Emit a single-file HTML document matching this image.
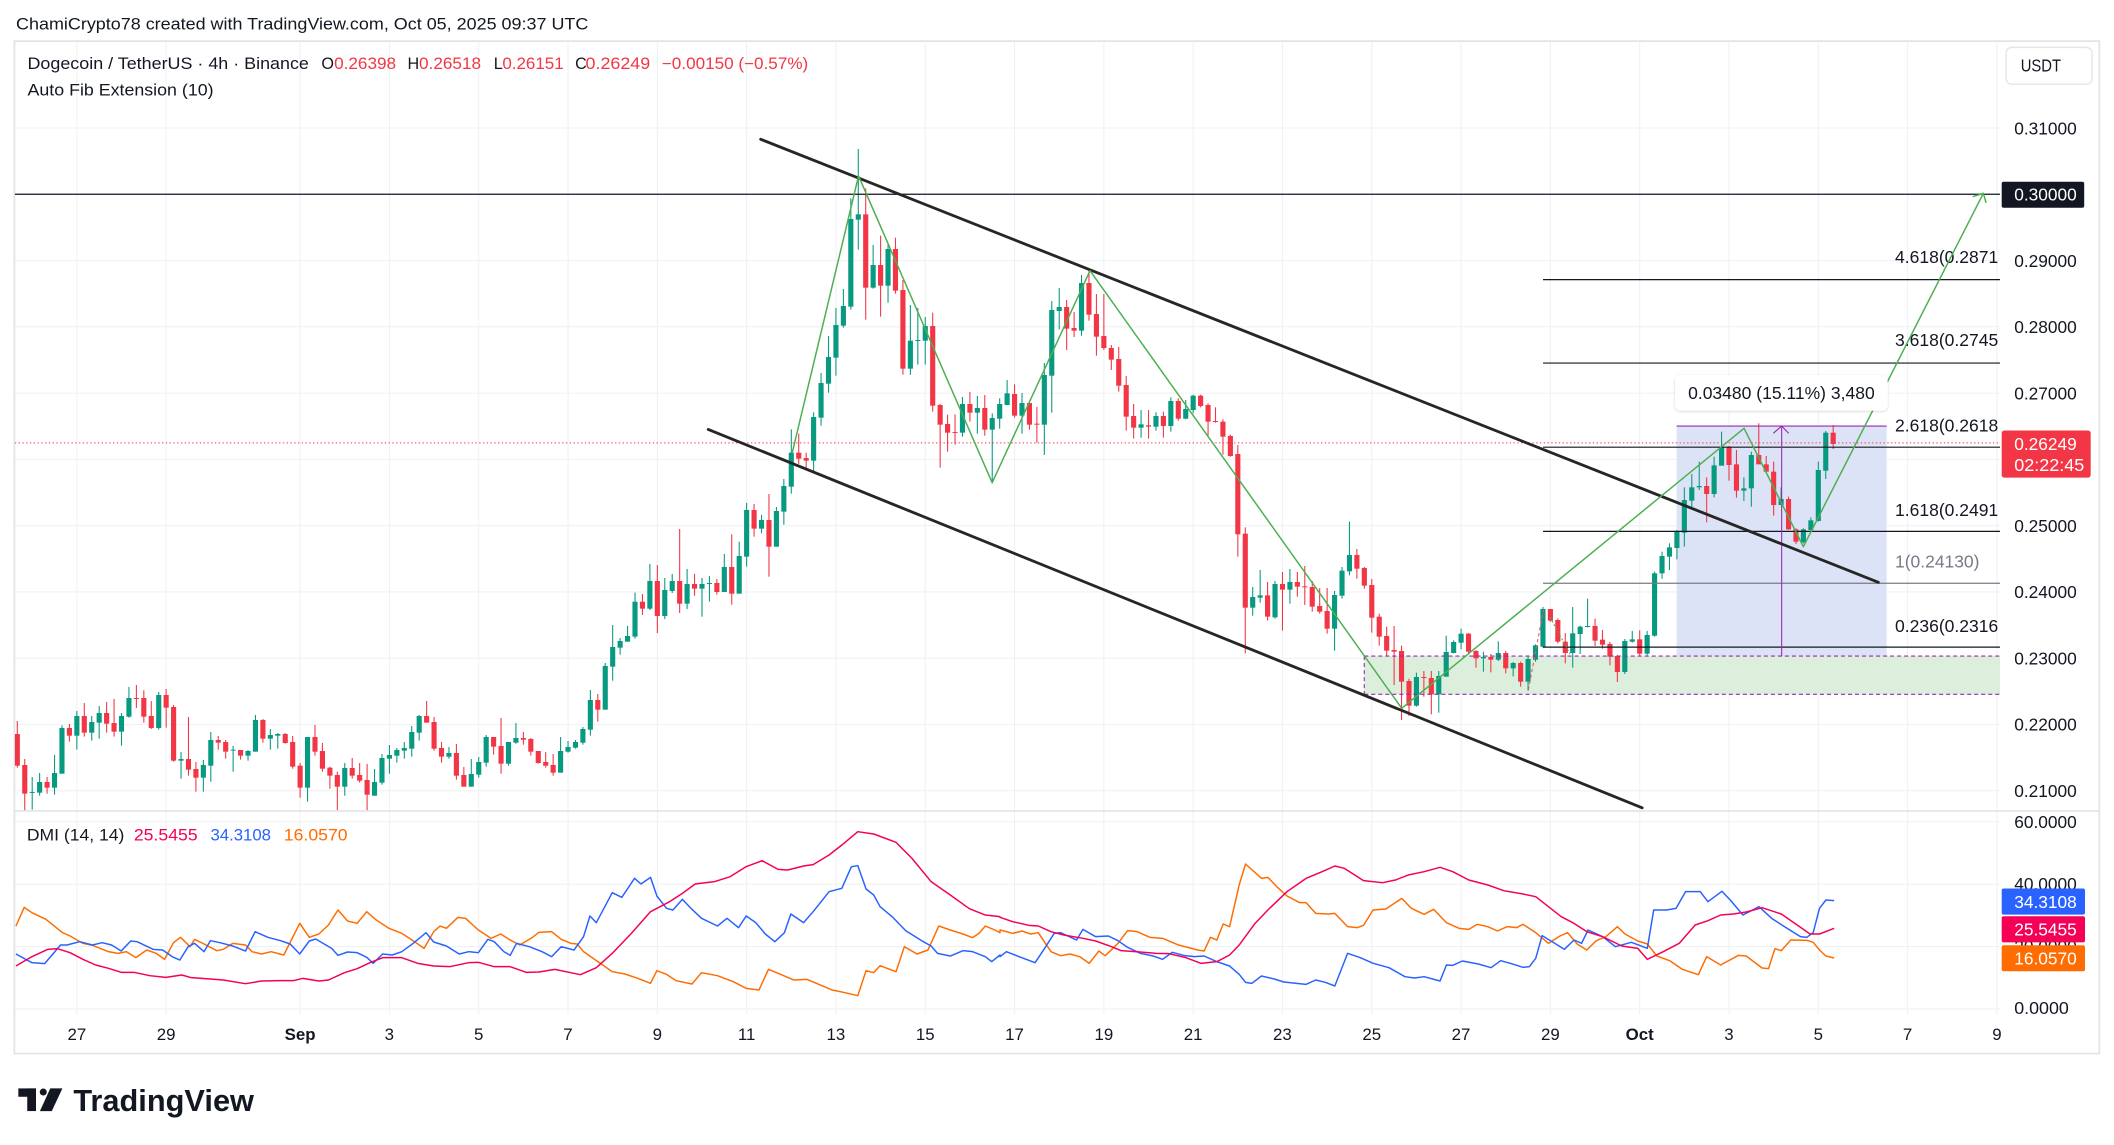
<!DOCTYPE html>
<html><head><meta charset="utf-8"><style>
html,body{margin:0;padding:0;background:#fff;}
svg{display:block;}
text{font-family:"Liberation Sans",Arial,sans-serif;}
</style></head><body>
<svg id="c" xmlns="http://www.w3.org/2000/svg" width="2114" height="1145" viewBox="0 0 1568 849.27" preserveAspectRatio="none">
<defs>
<clipPath id="pp"><rect x="11" y="30.5" width="1472.5" height="571"/></clipPath>
<clipPath id="dp"><rect x="11" y="601.5" width="1472.5" height="150.5"/></clipPath>
<filter id="sh" x="-10%" y="-30%" width="120%" height="170%"><feDropShadow dx="0" dy="0.6" stdDeviation="1" flood-color="#000" flood-opacity="0.18"/></filter>
</defs>
<rect x="0" y="0" width="1568" height="849.27" fill="#fff"/>
<text x="11.9" y="21.8" font-size="12.5" fill="#131722" textLength="424.5" lengthAdjust="spacingAndGlyphs">ChamiCrypto78 created with TradingView.com, Oct 05, 2025 09:37 UTC</text>
<rect x="10.7" y="30.5" width="1546.4" height="751" fill="#fff" stroke="#e3e4e8" stroke-width="1.3"/>
<g id="grid"></g>
<g id="under" clip-path="url(#pp)">
 <rect x="1011.9" y="486.6" width="471.6" height="28.4" fill="#dcefdd"/>
 <rect x="1243.6" y="316" width="155.8" height="170.6" fill="#dde3f6"/>
</g>
<g id="candles" clip-path="url(#pp)"></g>
<g id="draw" clip-path="url(#pp)">
 <line x1="11" y1="144.1" x2="1483.5" y2="144.1" stroke="#131722" stroke-width="0.9"/>
 <line x1="11" y1="328.5" x2="1483.5" y2="328.5" stroke="#f23645" stroke-width="0.8" stroke-dasharray="1 1.8"/>
 <g stroke="#131722" stroke-width="0.9">
  <line x1="1144.5" y1="207.4" x2="1483.5" y2="207.4"/>
  <line x1="1144.5" y1="269.3" x2="1483.5" y2="269.3"/>
  <line x1="1144.5" y1="331.7" x2="1483.5" y2="331.7"/>
  <line x1="1144.5" y1="394.1" x2="1483.5" y2="394.1"/>
  <line x1="1144.5" y1="480.0" x2="1483.5" y2="480.0"/>
 </g>
 <line x1="1144.5" y1="432.6" x2="1483.5" y2="432.6" stroke="#787b86" stroke-width="0.9"/>
 <g font-size="12.9" fill="#131722">
  <text x="1405.6" y="195.2" textLength="76.5" lengthAdjust="spacingAndGlyphs">4.618(0.2871</text>
  <text x="1405.6" y="256.5" textLength="76.5" lengthAdjust="spacingAndGlyphs">3.618(0.2745</text>
  <text x="1405.6" y="320.1" textLength="76.5" lengthAdjust="spacingAndGlyphs">2.618(0.2618</text>
  <text x="1405.6" y="382.8" textLength="76.5" lengthAdjust="spacingAndGlyphs">1.618(0.2491</text>
  <text x="1405.6" y="420.8" fill="#787b86" textLength="62.6" lengthAdjust="spacingAndGlyphs">1(0.24130)</text>
  <text x="1405.6" y="468.7" textLength="76.5" lengthAdjust="spacingAndGlyphs">0.236(0.2316</text>
 </g>
 <g fill="none" stroke="#9c27b0" stroke-width="0.8">
  <line x1="1011.9" y1="486.6" x2="1483.5" y2="486.6" stroke-dasharray="3 2.2"/>
  <line x1="1011.9" y1="515" x2="1483.5" y2="515" stroke-dasharray="3 2.2"/>
  <line x1="1011.9" y1="486.6" x2="1011.9" y2="515" stroke-dasharray="3 2.2"/>
  <line x1="1243.6" y1="316" x2="1399.4" y2="316"/>
  <line x1="1321.5" y1="316" x2="1321.5" y2="486.6"/>
  <polyline points="1315.3,321.4 1321.5,316 1326.7,321.4"/>
 </g>
 <line x1="564.2" y1="103.3" x2="1393.2" y2="431.9" stroke="#262626" stroke-width="2.1" stroke-linecap="round"/>
 <line x1="525.3" y1="318.5" x2="1218" y2="599.2" stroke="#262626" stroke-width="2.1" stroke-linecap="round"/>
 <polyline fill="none" stroke="#4caf50" stroke-width="1.1" stroke-linejoin="round" points="587.5,336.3 636.8,130.5 735.9,358 808.5,200.8 1039.7,525.4 1293.6,317.7 1337.6,405.5 1471.1,143.4"/>
 <polyline fill="none" stroke="#4caf50" stroke-width="1.1" points="1463.2,145.9 1471.1,143.4 1473.1,150.4"/>
 <line x1="1133.6" y1="511.8" x2="1144.8" y2="452.4" stroke="#f7525f" stroke-width="0.8" stroke-dasharray="2.5 2"/>
 <line x1="1149.6" y1="457.8" x2="1164.5" y2="485" stroke="#4caf50" stroke-width="0.8" stroke-dasharray="1.5 1.5"/>
</g>
<rect x="1242.4" y="278.1" width="157.7" height="26.5" rx="4" fill="#fff" filter="url(#sh)"/>
<text x="1321.3" y="296" font-size="13" fill="#131722" text-anchor="middle" textLength="138.4" lengthAdjust="spacingAndGlyphs">0.03480 (15.11%) 3,480</text>

<!-- legend -->
<g font-size="12">
 <text x="20.4" y="51.2" fill="#131722" textLength="208.7" lengthAdjust="spacingAndGlyphs">Dogecoin / TetherUS · 4h · Binance</text>
 <text x="238.4" y="51.2" fill="#131722">O</text>
 <text x="247.8" y="51.2" fill="#f23645" textLength="46" lengthAdjust="spacingAndGlyphs">0.26398</text>
 <text x="302.3" y="51.2" fill="#131722">H</text>
 <text x="310.8" y="51.2" fill="#f23645" textLength="46" lengthAdjust="spacingAndGlyphs">0.26518</text>
 <text x="366.2" y="51.2" fill="#131722">L</text>
 <text x="372.6" y="51.2" fill="#f23645" textLength="45.5" lengthAdjust="spacingAndGlyphs">0.26151</text>
 <text x="426.6" y="51.2" fill="#131722">C</text>
 <text x="434.3" y="51.2" fill="#f23645" textLength="48" lengthAdjust="spacingAndGlyphs">0.26249</text>
 <text x="490.9" y="51.2" fill="#f23645" textLength="108.6" lengthAdjust="spacingAndGlyphs">−0.00150 (−0.57%)</text>
 <text x="20.4" y="71" fill="#131722" textLength="138" lengthAdjust="spacingAndGlyphs">Auto Fib Extension (10)</text>
</g>

<!-- DMI pane -->
<line x1="10.7" y1="601.5" x2="1557.1" y2="601.5" stroke="#e3e4e8" stroke-width="1.2"/>
<g id="dmi" clip-path="url(#dp)"></g>
<g font-size="12">
 <text x="19.9" y="623.5" fill="#131722" textLength="72.3" lengthAdjust="spacingAndGlyphs">DMI (14, 14)</text>
 <text x="99.3" y="623.5" fill="#f50057" textLength="47.3" lengthAdjust="spacingAndGlyphs">25.5455</text>
 <text x="156.1" y="623.5" fill="#2962ff" textLength="44.9" lengthAdjust="spacingAndGlyphs">34.3108</text>
 <text x="210.5" y="623.5" fill="#ff6d00" textLength="47.3" lengthAdjust="spacingAndGlyphs">16.0570</text>
</g>

<!-- price axis -->
<rect x="1488" y="35.2" width="63.7" height="27.2" rx="4" fill="#fff" stroke="#e3e4e8" stroke-width="1"/>
<text x="1498.8" y="53.2" font-size="12.8" fill="#131722" textLength="29.9" lengthAdjust="spacingAndGlyphs">USDT</text>
<g font-size="12.8" fill="#131722">
 <text x="1494" y="99.6" textLength="46.4" lengthAdjust="spacingAndGlyphs">0.31000</text>
 <text x="1494" y="197.9" textLength="46.4" lengthAdjust="spacingAndGlyphs">0.29000</text>
 <text x="1494" y="247.0" textLength="46.4" lengthAdjust="spacingAndGlyphs">0.28000</text>
 <text x="1494" y="296.2" textLength="46.4" lengthAdjust="spacingAndGlyphs">0.27000</text>
 <text x="1494" y="394.5" textLength="46.4" lengthAdjust="spacingAndGlyphs">0.25000</text>
 <text x="1494" y="443.7" textLength="46.4" lengthAdjust="spacingAndGlyphs">0.24000</text>
 <text x="1494" y="492.9" textLength="46.4" lengthAdjust="spacingAndGlyphs">0.23000</text>
 <text x="1494" y="542.0" textLength="46.4" lengthAdjust="spacingAndGlyphs">0.22000</text>
 <text x="1494" y="591.2" textLength="46.4" lengthAdjust="spacingAndGlyphs">0.21000</text>
 <text x="1494" y="614.0" textLength="46.4" lengthAdjust="spacingAndGlyphs">60.0000</text>
 <text x="1494" y="660.3" textLength="46.4" lengthAdjust="spacingAndGlyphs">40.0000</text>
 <text x="1494" y="706.5" textLength="46.4" lengthAdjust="spacingAndGlyphs">20.0000</text>
</g>
<svg x="1484" y="601.5" width="70" height="150.5" overflow="hidden"><text x="10" y="150.8" font-size="12.8" fill="#131722" textLength="40.5" lengthAdjust="spacingAndGlyphs">0.0000</text></svg>
<rect x="1484.7" y="134.8" width="61.2" height="19.3" rx="1.5" fill="#131722"/>
<text x="1494" y="148.7" font-size="12.8" fill="#fff" textLength="46.4" lengthAdjust="spacingAndGlyphs">0.30000</text>
<rect x="1484.7" y="319.3" width="66" height="35" rx="2" fill="#f23645"/>
<text x="1494" y="333.9" font-size="12.8" fill="#fff" textLength="46.4" lengthAdjust="spacingAndGlyphs">0.26249</text>
<text x="1494" y="349.5" font-size="12.8" fill="#fff" textLength="52" lengthAdjust="spacingAndGlyphs">02:22:45</text>
<rect x="1484.7" y="659" width="61.8" height="19.4" rx="1.5" fill="#2962ff"/>
<text x="1494" y="673.3" font-size="12.8" fill="#fff" textLength="46.4" lengthAdjust="spacingAndGlyphs">34.3108</text>
<rect x="1484.7" y="679.6" width="61.8" height="19.4" rx="1.5" fill="#f50057"/>
<text x="1494" y="693.9" font-size="12.8" fill="#fff" textLength="46.4" lengthAdjust="spacingAndGlyphs">25.5455</text>
<rect x="1484.7" y="701.1" width="61.8" height="19.3" rx="1.5" fill="#ff6d00"/>
<text x="1494" y="715.4" font-size="12.8" fill="#fff" textLength="46.4" lengthAdjust="spacingAndGlyphs">16.0570</text>

<!-- time axis -->
<g font-size="12.5" fill="#131722" text-anchor="middle">
 <text x="57" y="771.4">27</text>
 <text x="123.2" y="771.4">29</text>
 <text x="222.6" y="771.4" font-weight="bold">Sep</text>
 <text x="288.8" y="771.4">3</text>
 <text x="355.1" y="771.4">5</text>
 <text x="421.3" y="771.4">7</text>
 <text x="487.6" y="771.4">9</text>
 <text x="553.8" y="771.4">11</text>
 <text x="620" y="771.4">13</text>
 <text x="686.3" y="771.4">15</text>
 <text x="752.5" y="771.4">17</text>
 <text x="818.8" y="771.4">19</text>
 <text x="885" y="771.4">21</text>
 <text x="951.2" y="771.4">23</text>
 <text x="1017.5" y="771.4">25</text>
 <text x="1083.7" y="771.4">27</text>
 <text x="1150" y="771.4">29</text>
 <text x="1216.2" y="771.4" font-weight="bold">Oct</text>
 <text x="1282.4" y="771.4">3</text>
 <text x="1348.7" y="771.4">5</text>
 <text x="1414.9" y="771.4">7</text>
 <text x="1481.2" y="771.4">9</text>
</g>

<!-- logo -->
<g fill="#131722">
 <rect x="13.6" y="807.3" width="13.1" height="6.2"/>
 <rect x="20.2" y="807.3" width="6.5" height="16.8"/>
 <circle cx="32.1" cy="810" r="2.6"/>
 <polygon points="37.3,807.3 46.3,807.3 38.4,824.1 29.6,824.1"/>
</g>
<text x="54.4" y="824.1" font-size="23" font-weight="bold" fill="#131722" textLength="134" lengthAdjust="spacingAndGlyphs">TradingView</text>
</svg>
<script>
(function(){
var NS="http://www.w3.org/2000/svg",S=1.34821;
function el(t,a,p){var e=document.createElementNS(NS,t);for(var k in a)e.setAttribute(k,a[k]);p.appendChild(e);return e;}
var g=document.getElementById('grid');
var days=[0,2,5,7,9,11,13,15,17,19,21,23,25,27,29,31,33,35,37,39,41,43];
days.forEach(function(d){var x=57+33.12*d;el('line',{x1:x,y1:31,x2:x,y2:752,stroke:'#f0f1f4','stroke-width':0.8},g);});
[0.31,0.30,0.29,0.28,0.27,0.26,0.25,0.24,0.23,0.22,0.21].forEach(function(p){var y=144.1+(0.30-p)*4916;el('line',{x1:11,y1:y,x2:1483.5,y2:y,stroke:'#f0f1f4','stroke-width':0.8},g);});
[60,40,20,0].forEach(function(v){var y=748.4-v*2.315;el('line',{x1:11,y1:y,x2:1483.5,y2:y,stroke:'#f0f1f4','stroke-width':0.8},g);});
var Z=[
{s:-8,o:380,d:"r 1062 1157 1023 1163|r 1155 1241 1137 1293|g 1236 1238 1191 1289|g 1206 1238 1179 1247|r 1206 1223 1191 1241|g 1179 1223 1125 1244|g 1044 1181 1036 1181|r 1044 1067 1032 1085|g 1008 1067 993 1109|r 1008 1058 969 1070|g 1026 1058 1008 1082|g 999 1028 978 1076|r 999 1031 966 1058|r 1029 1055 957 1070|g 1008 1055 999 1097|g 954 1010 921 1013|r 954 957 915 984|r 954 1010 931 1028|r 1008 1044 963 1047|g 945 1044 936 1049|r 945 983 927 1043|r 981 1142 975 1145|g 1137 1142 1116 1196|r 1137 1169 1011 1187|r 1167 1193 1146 1235|g 1155 1193 1140 1235|g 1080 1157 1056 1205|r 1080 1088 1068 1109|r 1086 1115 1080 1136|g 1109 1111 1098 1175|r 1110 1127 1110 1139|g 1113 1127 1110 1142|g 1020 1115 1005 1115|r 1020 1076 1017 1088|g 1065 1076 1047 1109|g 1062 1067 1059 1106|r 1062 1089 1059 1091|r 1086 1160 1068 1166|r 1157 1223 1149 1253|g 1071 1223 1071 1265|r 1071 1115 1035 1127|r 1113 1166 1089 1175|r 1163 1187 1160 1226|r 1185 1220 1175 1293|g 1164 1220 1149 1247|r 1164 1187 1134 1196|r 1185 1202 1149 1208|r 1200 1244 1152 1293|g 1206 1247 1167 1247|g 1134 1208 1122 1214|g 1125 1136 1095 1181|g 1110 1127 1104 1148|g 1104 1112 1086 1136|g 1056 1106 1038 1130|g 1008 1058 1005 1082|r 1008 1028 963 1028|r 1026 1106 1011 1112|r 1104 1130 1086 1148|g 1119 1130 1101 1136|r 1119 1187 1092 1199|r 1185 1220 1161 1220|g 1182 1220 1137 1220|g 1146 1184 1131 1193|g 1071 1148 1065 1160|r 1071 1100 1071 1124|r 1098 1151 1014 1181|g 1086 1151 1086 1157|g 1074 1088 1029 1091|r 1074 1079 1056 1094|r 1077 1115 1074 1127|r 1113 1149 1113 1151|r 1146 1157 1116 1163|r 1155 1178 1122 1187|g 1113 1178 1071 1178|g 1101 1115 1083 1118"},
{s:67,o:600,d:"g 426 443 420 446|g 387 428 381 434|g 300 389 270 407|r 300 329 282 365|g 198 329 189 329|g 141 200 75 242|g 123 143 114 164|g 108 125 78 125"},
{s:76,o:120,d:"r 1445 1466 1422 1485|g 1383 1466 1332 1470|r 1383 1488 1335 1539|g 1410 1488 1374 1497|g 1383 1413 1362 1419|r 1383 1451 1227 1479|g 1392 1451 1347 1467|r 1392 1406 1362 1427|g 1392 1406 1374 1490|g 1389 1392 1368 1445|r 1389 1416 1377 1424|g 1341 1416 1302 1416|r 1341 1421 1243 1454|g 1308 1421 1265 1421|g 1170 1310 1149 1340|r 1170 1226 1152 1250|g 1200 1226 1185 1240|r 1200 1280 1122 1370|g 1173 1280 1161 1280|g 1098 1175 1077 1214|g 998 1100 928 1121|r 998 1016 941 1032|r 1014 1022 998 1046|g 891 1022 877 1058|g 789 893 759 917|g 711 791 648 818|g 615 713 564 767|g 558 617 507 623|g 297 560 235 569|g 283 299 87 389|r 283 503 205 599|g 435 503 375 506|r 435 497 347 590|g 387 497 372 548|r 387 512 353 521|r 510 746 480 764|g 662 746 555 764|g 660 663 564 734|g 618 662 591 734|r 618 857 578 875|r 855 914 852 1043|r 912 938 884 995|r 936 938 883 974|g 852 938 831 950|r 852 878 816 905|g 864 878 828 941|r 864 929 825 947|g 894 929 880 1090|g 852 896 835 926|g 820 855 780 855|r 822 887 793 893|g 849 887 819 941|r 849 914 849 929|r 911 914 861 968|g 765 914 729 1005|g 570 767 543 878|g 561 573 504 628|r 561 626 540 690|r 624 632 576 651|g 489 632 465 647|r 489 584 450 602|r 582 650 522 707|r 648 684 522 690|r 684 719 675 750|r 717 797 681 815"},
{s:141,o:350,d:"r 105 200 78 242|r 198 233 162 266|g 223 233 180 263|r 226 230 180 266|g 198 230 187 242|r 198 228 185 263|g 153 228 142 245|r 153 206 145 212|g 177 206 150 208|g 137 180 134 190|r 137 168 134 172|r 165 215 160 257|r 213 215 172 218|r 215 260 208 314|r 258 318 254 320|r 312 553 285 620|r 551 773 532 910|g 741 773 711 797|g 736 743 660 758|r 736 800 696 812|g 702 802 693 806|r 702 719 666 842|g 696 719 657 761|r 696 710 666 740|r 709 712 648 765|r 711 770 693 785|r 768 785 714 791|r 783 836 714 851|g 735 836 723 902|g 662 737 651 746|g 615 664 515 676|r 615 656 597 686|r 654 707 651 716|r 705 803 687 848|r 800 860 791 887|r 858 902 830 917|r 900 905 828 1005|r 903 995 887 1110|r 993 1067 986 1098|g 981 1067 968 1070|r 981 984 963 1040|r 984 1033 963 1093|g 978 1033 963 1088|g 906 980 857 980|g 876 909 871 910|g 851 878 836 898|r 851 905 849 912|r 903 925 900 953|g 921 925 905 965|r 921 929 912 967|g 909 929 874 933|r 909 955 903 970|g 939 955 936 979|r 939 995 935 1010|g 927 995 920 1022|g 886 929 883 935|g 777 890 771 893|r 777 812 777 815|r 810 875 805 880|r 875 909 849 940|g 850 909 771 953|g 830 852 827 912|g 828 831 746 832|r 828 872 806 888|r 869 884 840 896|r 882 920 876 946|r 918 966 915 996|g 873 966 867 972|g 868 875 843 878|r 868 911 841 916|g 855 911 843 916"},
{s:212,o:370,d:"g 610 797 605 800|g 558 610 545 626|g 532 560 520 600|g 485 534 480 568|g 390 488 352 530|g 352 392 312 415|g 348 352 275 360|r 348 372 322 457|g 286 372 260 382|g 230 287 185 287|r 230 285 228 332|r 283 362 240 383|g 355 362 322 393|g 255 355 245 410|r 255 283 160 283|r 283 305 258 308|r 305 405 275 437|g 387 405 352 405|r 387 478 380 480|r 478 515 475 522|g 478 517 475 520|g 451 480 442 482|g 300 453 275 455|g 188 302 183 327|r 188 222 165 237"}
];
var C=document.getElementById('candles');
function candle(i,col,bt,bb,wt,wb){
 var x=57+5.52*i,c=col=='g'?'#089981':'#f23645';
 el('line',{x1:x,y1:wt,x2:x,y2:wb,stroke:c,'stroke-width':0.8},C);
 var h=Math.max(bb-bt,0.7);
 el('rect',{x:x-1.9,y:bt,width:3.8,height:h,fill:c},C);
}
Z.forEach(function(z){
 z.d.split('|').forEach(function(r,k){
  var a=r.split(' '),f=function(v){return (z.o+(+v)/3)/S;};
  candle(z.s+k,a[0],f(a[1]),f(a[2]),f(a[3]),f(a[4]));
 });
});
candle(75,'g',446.3,472.2,439.6,473.7);
var D=document.getElementById('dmi');
function line(str,off){
 return str.trim().split(/\s+/).map(function(p){var q=p.split(',');return ((off+(+q[0])*1000/1568)/S).toFixed(2)+','+((810+(+q[1])/3)/S).toFixed(2);}).join(' ');
}
var R8="25,468 50,440 75,418 90,416 110,428 130,448 150,465 170,475 190,487 210,487 235,497 260,502 285,495 300,503 330,507 350,510 385,521 410,513 440,512 460,512 475,505 500,513 515,510 540,488 560,476 580,458 600,443 630,443 655,460 680,468 705,470 735,458 750,457 775,470 800,470 825,487 845,486 870,478 895,488 910,494 935,473 960,430 990,370 1020,305 1050,275 1070,250 1090,222 1120,215 1145,200 1170,170 1195,152 1220,178 1235,180 1260,168 1275,164 1300,135 1320,105 1345,65 1370,72 1405,97 1430,145 1460,215 1490,255 1520,296 1545,315 1568,320";
var R9="0,322 20,335 45,346 60,348 80,365 100,375 130,385 150,393 175,410 190,422 220,426 245,430 265,431 290,442 315,460 340,455 360,435 375,405 400,340 420,300 450,245 480,205 505,185 525,168 540,175 570,212 600,218 620,210 640,195 665,185 690,172 710,185 735,210 765,225 790,242 820,252 840,260 860,290 880,320 900,340 920,365 945,380 975,408 1000,415 1015,448 1040,425 1065,400 1090,345 1110,332 1130,315 1150,312 1170,306 1195,293 1225,312 1250,345 1270,372 1285,372 1308,355";
var B8="25,432 50,458 70,461 95,405 105,405 125,395 145,405 160,398 175,405 190,423 205,393 215,395 240,418 255,420 270,440 282,450 295,410 305,400 320,425 330,392 345,398 365,408 385,423 400,365 420,382 440,392 455,402 470,432 485,393 495,387 520,415 530,436 545,426 560,428 575,442 585,460 600,432 615,435 630,425 648,400 668,368 680,396 700,408 720,432 735,425 750,428 765,388 775,395 790,425 800,436 810,400 830,410 850,425 865,440 880,410 900,420 915,380 925,318 935,338 960,248 975,262 995,205 1005,222 1020,202 1030,258 1045,295 1055,300 1070,268 1085,298 1100,325 1125,348 1140,325 1158,353 1170,318 1185,338 1200,372 1215,395 1230,368 1240,312 1260,338 1275,305 1300,245 1320,235 1335,170 1345,167 1358,237 1370,255 1380,290 1400,322 1420,362 1445,392 1460,408 1470,430 1490,438 1510,422 1525,425 1545,440 1555,455 1568,435";
var B9="0,440 10,425 30,440 55,458 70,415 85,370 95,368 120,390 130,358 150,380 170,378 185,392 200,412 220,430 240,438 255,448 270,427 290,437 305,440 320,438 340,455 360,468 375,493 385,517 395,520 410,498 430,507 445,516 465,520 480,523 495,510 510,517 525,528 545,430 565,443 585,460 610,473 635,500 650,504 665,500 690,513 700,465 710,466 725,453 750,462 770,473 785,452 800,460 820,472 830,470 840,445 850,377 870,400 885,418 900,390 912,400 922,360 945,380 965,410 990,397 1015,415 1025,300 1045,300 1060,295 1075,245 1098,245 1110,275 1132,244 1145,270 1165,315 1190,290 1210,325 1230,350 1255,380 1265,382 1275,368 1285,295 1295,270 1308,272";
var O8="25,348 38,292 50,308 72,328 98,368 110,378 130,400 145,406 170,425 185,430 198,425 213,443 230,420 245,430 258,448 272,398 283,382 298,410 305,388 320,402 340,422 350,418 365,400 385,405 395,425 410,432 425,425 445,435 470,340 485,382 500,372 515,345 530,300 545,333 560,340 575,305 590,330 610,355 630,370 650,395 665,415 680,365 690,348 700,355 718,322 730,325 750,360 770,385 785,372 800,390 815,405 835,382 845,367 865,365 880,388 895,400 905,402 915,425 930,445 945,465 960,485 980,492 1000,505 1020,520 1030,482 1045,493 1060,512 1085,522 1100,488 1125,497 1150,515 1170,535 1190,540 1205,478 1220,490 1245,510 1265,508 1280,520 1305,540 1325,548 1345,557 1358,482 1370,488 1380,467 1405,485 1418,410 1438,432 1455,420 1472,348 1490,360 1510,372 1525,383 1535,370 1545,348 1560,360 1568,368";
var O9="0,360 20,370 35,363 48,372 60,368 80,425 95,437 110,432 125,440 140,460 155,423 165,437 185,400 200,362 215,365 235,382 255,385 280,405 310,420 320,423 330,382 340,390 350,342 360,350 375,225 385,162 410,205 420,202 435,232 450,258 470,278 480,278 495,310 515,312 525,310 545,350 560,353 570,346 585,300 605,297 630,265 645,295 665,313 680,298 700,338 720,355 735,358 748,343 765,350 780,363 795,350 810,353 820,343 840,368 860,400 878,378 890,368 905,402 920,420 935,392 950,380 968,350 980,372 1000,393 1015,402 1030,438 1050,452 1070,478 1095,494 1108,440 1130,465 1158,436 1170,438 1195,474 1205,476 1215,416 1225,422 1240,390 1265,391 1275,397 1285,420 1295,438 1308,444";
[[O8,O9,'#ff6d00'],[B8,B9,'#2962ff'],[R8,R9,'#f50057']].forEach(function(s){
 el('polyline',{points:line(s[0],0)+' '+line(s[1],1000),fill:'none',stroke:s[2],'stroke-width':1.1,'stroke-linejoin':'round'},D);
});
})();
</script>
</body></html>
